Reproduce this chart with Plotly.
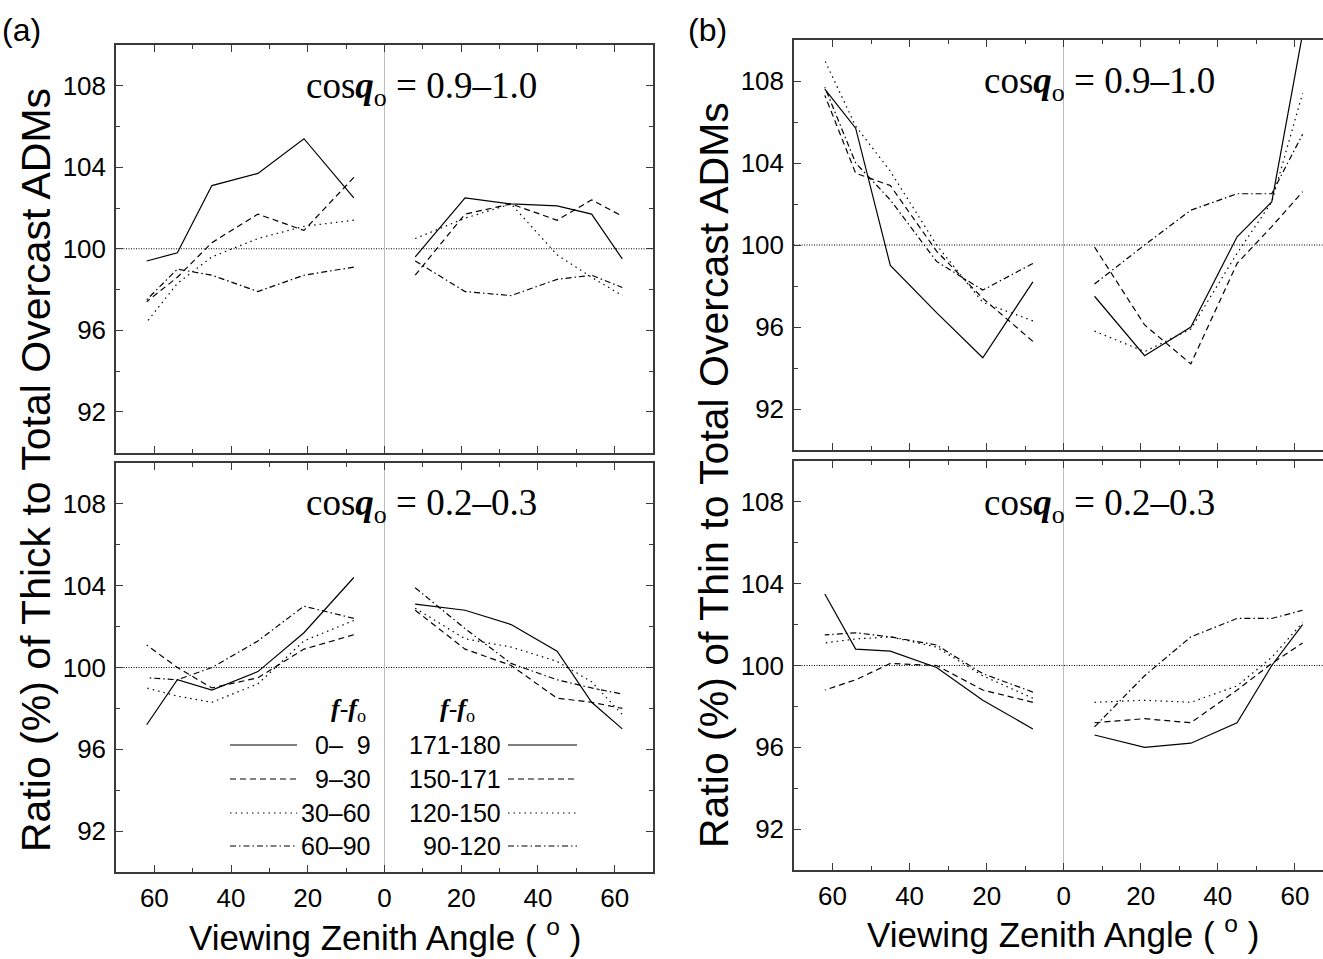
import plotly.graph_objects as go

# ---------------- data ----------------
vza = [8, 21, 33, 45, 54, 62]              # viewing zenith angle bin centres (deg)
styles = ["solid", "dashed", "dotted", "dashdot"]
left_bins = ["0–  9", "9–30", "30–60", "60–90"]
right_bins = ["171-180", "150-171", "120-150", "90-120"]
y_ticks = [92, 96, 100, 104, 108]
x_ticks = [-60, -40, -20, 0, 20, 40, 60]
x_tick_text = ["60", "40", "20", "0", "20", "40", "60"]

# (a) thick / total, cos(theta0) = 0.9-1.0
a_top_left = {
    "solid":   [102.5, 105.4, 103.7, 103.1, 99.8, 99.4],
    "dashed":  [103.5, 100.9, 101.7, 100.3, 98.6, 97.4],
    "dotted":  [101.4, 101.1, 100.5, 99.6, 98.3, 96.4],
    "dashdot": [99.1, 98.7, 97.9, 98.7, 99.0, 97.5],
}
a_top_right = {
    "solid":   [99.6, 102.5, 102.2, 102.1, 101.7, 99.5],
    "dashed":  [98.7, 101.7, 102.2, 101.4, 102.4, 101.6],
    "dotted":  [100.5, 101.5, 102.2, 99.7, 98.6, 97.7],
    "dashdot": [99.4, 97.9, 97.7, 98.5, 98.7, 98.1],
}
# (a) thick / total, cos(theta0) = 0.2-0.3
a_bot_left = {
    "solid":   [104.4, 101.7, 99.8, 98.9, 99.4, 97.2],
    "dashed":  [101.6, 100.9, 99.5, 99.0, 100.0, 101.1],
    "dotted":  [102.3, 101.3, 99.2, 98.3, 98.6, 99.0],
    "dashdot": [102.4, 103.0, 101.3, 100.0, 99.4, 99.5],
}
a_bot_right = {
    "solid":   [103.1, 102.8, 102.1, 100.8, 98.3, 97.0],
    "dashed":  [102.8, 100.9, 100.1, 98.5, 98.3, 98.0],
    "dotted":  [102.9, 101.4, 101.0, 100.3, 99.3, 97.7],
    "dashdot": [103.9, 101.9, 100.2, 99.4, 99.0, 98.7],
}
# (b) thin / total, cos(theta0) = 0.9-1.0
b_top_left = {
    "solid":   [98.2, 94.5, 96.7, 99.0, 105.7, 107.6],
    "dashed":  [95.3, 97.4, 99.7, 102.9, 103.5, 107.3],
    "dotted":  [96.3, 97.2, 100.0, 103.6, 105.8, 109.0],
    "dashdot": [99.1, 97.8, 99.2, 102.2, 104.0, 107.7],
}
b_top_right = {
    "solid":   [97.5, 94.6, 96.0, 100.4, 102.1, 110.3],
    "dashed":  [99.9, 96.1, 94.2, 99.1, 100.9, 102.6],
    "dotted":  [95.8, 94.8, 95.9, 99.6, 102.1, 107.4],
    "dashdot": [98.1, 100.0, 101.7, 102.5, 102.5, 105.4],
}
# (b) thin / total, cos(theta0) = 0.2-0.3
b_bot_left = {
    "solid":   [96.9, 98.3, 99.9, 100.7, 100.8, 103.5],
    "dashed":  [98.2, 98.8, 100.0, 100.1, 99.3, 98.8],
    "dotted":  [98.4, 99.5, 100.9, 101.4, 101.3, 101.1],
    "dashdot": [98.7, 99.6, 101.0, 101.4, 101.6, 101.5],
}
b_bot_right = {
    "solid":   [96.6, 96.0, 96.2, 97.2, 100.0, 102.0],
    "dashed":  [97.2, 97.4, 97.2, 98.8, 100.1, 101.1],
    "dotted":  [98.2, 98.3, 98.2, 99.0, 100.4, 102.1],
    "dashdot": [97.0, 99.5, 101.4, 102.3, 102.3, 102.7],
}

# ---------------- styling ----------------
DASH = {"solid": "solid", "dashed": "6px,4px", "dotted": "1.5px,4px", "dashdot": "6px,3px,1.5px,3px"}
SANS = "Liberation Sans, Arial, sans-serif"
SERIF = "Liberation Serif, Times New Roman, serif"
AX = "#3a3a3a"

fig = go.Figure()

panels = [
    ("x", "y", a_top_left, a_top_right),
    ("x2", "y2", a_bot_left, a_bot_right),
    ("x3", "y3", b_top_left, b_top_right),
    ("x4", "y4", b_bot_left, b_bot_right),
]
for xa, ya, left, right in panels:
    for s in styles:
        fig.add_trace(go.Scatter(x=[-v for v in vza], y=left[s], xaxis=xa, yaxis=ya, mode="lines",
                                 line=dict(color="black", width=1.2, dash=DASH[s]), showlegend=False,
                                 hoverinfo="skip"))
        fig.add_trace(go.Scatter(x=vza, y=right[s], xaxis=xa, yaxis=ya, mode="lines",
                                 line=dict(color="black", width=1.2, dash=DASH[s]), showlegend=False,
                                 hoverinfo="skip"))
    # 100 % reference line
    fig.add_shape(type="line", xref=f"{xa} domain", yref=ya, x0=0, x1=1, y0=100, y1=100,
                  line=dict(color="black", width=1, dash="1px,1.5px"), layer="below")

# ---------------- axes ----------------
xa_dom = [116 / 1323, 653 / 1323]
xb_dom = [794 / 1323, 1.0]
dom = {
    "y": [1 - 452.5 / 959, 1 - 45 / 959],
    "y2": [1 - 872 / 959, 1 - 463 / 959],
    "y3": [1 - 450 / 959, 1 - 40 / 959],
    "y4": [1 - 870 / 959, 1 - 461 / 959],
}

def xaxis(domain, anchor, rng, labels, mirror):
    return dict(domain=domain, anchor=anchor, range=rng, tickmode="array", tickvals=x_ticks,
                ticktext=x_tick_text, showticklabels=labels, ticks="inside", ticklen=7,
                tickwidth=1.2, tickcolor=AX, showline=True, linecolor=AX, linewidth=1.5,
                mirror=mirror, showgrid=False, zeroline=True, zerolinecolor="#bdbdbd",
                zerolinewidth=1.2, ticklabelstandoff=2,
                tickfont=dict(family=SANS, size=26, color="black"),
                minor=dict(tickmode="linear", tick0=0, dtick=10, ticks="inside", ticklen=4,
                           tickwidth=1, tickcolor=AX, showgrid=False))

def yaxis(domain, anchor, mirror):
    return dict(domain=domain, anchor=anchor, range=[90, 110], tickmode="array", tickvals=y_ticks,
                ticks="inside", ticklen=7, tickwidth=1.2, tickcolor=AX, showline=True,
                linecolor=AX, linewidth=1.5, mirror=mirror, showgrid=False, zeroline=False,
                ticklabelstandoff=3,
                tickfont=dict(family=SANS, size=26, color="black"),
                minor=dict(tickmode="linear", tick0=90, dtick=2, ticks="inside", ticklen=4,
                           tickwidth=1, tickcolor=AX, showgrid=False))

fig.update_layout(
    xaxis=xaxis(xa_dom, "y", [-70, 70], False, "ticks"),
    yaxis=yaxis(dom["y"], "x", "ticks"),
    xaxis2=xaxis(xa_dom, "y2", [-70, 70], True, "ticks"),
    yaxis2=yaxis(dom["y2"], "x2", "ticks"),
    xaxis3=xaxis(xb_dom, "y3", [-70, 67.3], False, "ticks"),
    yaxis3=yaxis(dom["y3"], "x3", False),
    xaxis4=xaxis(xb_dom, "y4", [-70, 67.3], True, "ticks"),
    yaxis4=yaxis(dom["y4"], "x4", False),
)

# ---------------- text ----------------
ann = []
def text(x, y, t, size, family=SANS, xanchor="center", yanchor="middle", angle=0):
    ann.append(dict(x=x / 1323, y=1 - y / 959, xref="paper", yref="paper", text=t, showarrow=False,
                    xanchor=xanchor, yanchor=yanchor, textangle=angle,
                    font=dict(family=family, size=size, color="black")))

text(0, 30, "(a)", 32, xanchor="left")
text(686, 30, "(b)", 32, xanchor="left")
text(36, 470, "Ratio (%) of Thick to Total Overcast ADMs", 41, angle=-90)
text(714, 475, "Ratio (%) of Thin to Total Overcast ADMs", 41, angle=-90)
text(385, 935, "Viewing Zenith Angle ( <sup>o</sup> )", 35)
text(1063, 932, "Viewing Zenith Angle ( <sup>o</sup> )", 35)

cos_hi = "cos<b><i>q</i></b><sub>o</sub> = 0.9–1.0"
cos_lo = "cos<b><i>q</i></b><sub>o</sub> = 0.2–0.3"
text(304, 88, cos_hi, 37, family=SERIF, xanchor="left")
text(982, 83, cos_hi, 37, family=SERIF, xanchor="left")
text(304, 505, cos_lo, 37, family=SERIF, xanchor="left")
text(982, 505, cos_lo, 37, family=SERIF, xanchor="left")

# legend (panel a, bottom)
hdr = "<b><i>f</i></b>-<b><i>f</i></b><sub>o</sub>"
text(368, 710, hdr, 26, family=SERIF, xanchor="right")
text(438, 710, hdr, 26, family=SERIF, xanchor="left")
row_y = [745, 779, 813, 846]
for i, s in enumerate(styles):
    y = row_y[i]
    text(373, y, left_bins[i], 25, xanchor="right")
    text(503, y, right_bins[i], 25, xanchor="right")
    for x0, x1 in [(230, 297), (508, 577)]:
        fig.add_shape(type="line", xref="paper", yref="paper", x0=x0 / 1323, x1=x1 / 1323,
                      y0=1 - y / 959, y1=1 - y / 959,
                      line=dict(color="black", width=1.2, dash=DASH[s]))

fig.update_layout(annotations=ann, width=1323, height=959, margin=dict(l=0, r=0, t=0, b=0),
                  paper_bgcolor="white", plot_bgcolor="white", showlegend=False)

fig.write_html("out.html")
